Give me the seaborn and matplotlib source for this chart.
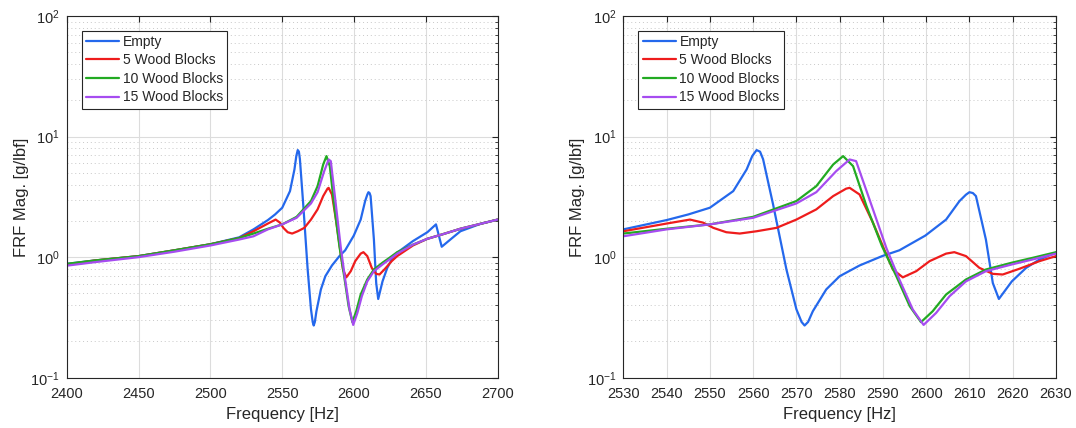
import pandas as pd
import matplotlib
matplotlib.use("Agg")
import matplotlib.pyplot as plt
import seaborn as sns
from matplotlib.ticker import LogLocator, NullFormatter, MultipleLocator

# data (frequency in Hz, FRF magnitude in g/lbf)
freq_empty = [2400, 2420, 2450, 2475, 2500, 2520, 2530, 2540, 2545, 2550,
              2555.4, 2558.5, 2559.8, 2560.8, 2561.6, 2562.3, 2564.6, 2567.7, 2570, 2571.2,
              2571.9, 2572.7, 2573.8, 2576.9, 2580, 2584.6, 2589.8, 2593.8, 2599.8, 2604.6,
              2607.7, 2609.2, 2610, 2610.8, 2611.5, 2613.8, 2615.4, 2616.8, 2619.8, 2623.1,
              2626.2, 2630, 2641, 2651, 2657, 2661, 2667, 2674, 2688, 2700]
mag_empty = [0.88, 0.94, 1.02, 1.14, 1.28, 1.46, 1.70, 2.03, 2.26, 2.57,
             3.53, 5.34, 6.9, 7.73, 7.5, 6.5, 2.75, 0.79, 0.37, 0.29,
             0.271, 0.29, 0.356, 0.54, 0.695, 0.853, 1.02, 1.14, 1.51, 2.05,
             2.92, 3.3, 3.46, 3.4, 3.21, 1.40, 0.61, 0.45, 0.63, 0.815,
             0.957, 1.09, 1.36, 1.61, 1.87, 1.22, 1.40, 1.64, 1.89, 2.05]

freq_5 = [2400, 2420, 2450, 2475, 2500, 2520, 2530, 2540, 2545.4, 2548.5,
          2550.8, 2553.8, 2556.9, 2560.8, 2565.4, 2570, 2574.6, 2578.5, 2581.5, 2582.3,
          2584.6, 2587.7, 2590, 2592.3, 2594.6, 2597.7, 2600.8, 2604.6, 2606.5, 2609.2,
          2612.3, 2615.4, 2617.7, 2621.5, 2626.2, 2630, 2641, 2651, 2661, 2674,
          2688, 2700]
mag_5 = [0.87, 0.94, 1.02, 1.14, 1.28, 1.44, 1.64, 1.90, 2.05, 1.93,
         1.75, 1.61, 1.57, 1.64, 1.75, 2.05, 2.49, 3.21, 3.7, 3.76,
         3.31, 1.93, 1.23, 0.79, 0.68, 0.765, 0.927, 1.07, 1.10, 1.02,
         0.815, 0.727, 0.718, 0.80, 0.927, 1.02, 1.25, 1.42, 1.54, 1.72,
         1.89, 2.05]

freq_10 = [2400, 2420, 2450, 2475, 2500, 2520, 2530, 2540, 2550, 2560,
           2570, 2574.6, 2578.5, 2580.8, 2583.1, 2586.2, 2589.8, 2593.1, 2596.2, 2598.8,
           2601.5, 2604.6, 2609.2, 2613.8, 2619.8, 2624.6, 2630, 2641, 2651, 2661,
           2674, 2688, 2700]
mag_10 = [0.88, 0.94, 1.02, 1.14, 1.28, 1.44, 1.57, 1.72, 1.87, 2.16,
          2.92, 3.88, 5.87, 6.89, 5.69, 2.65, 1.23, 0.695, 0.392, 0.289,
          0.356, 0.49, 0.653, 0.79, 0.90, 0.987, 1.10, 1.27, 1.42, 1.54,
          1.72, 1.89, 2.05]

freq_15 = [2400, 2420, 2450, 2475, 2500, 2520, 2530, 2540, 2550, 2560,
           2570, 2574.6, 2579.2, 2582.3, 2583.8, 2586.9, 2590.8, 2593.8, 2596.9, 2599.4,
           2602.3, 2605.4, 2609.2, 2613.8, 2619.8, 2624.6, 2630, 2641, 2651, 2661,
           2674, 2688, 2700]
mag_15 = [0.85, 0.91, 1.00, 1.11, 1.25, 1.40, 1.49, 1.70, 1.87, 2.12,
          2.79, 3.46, 5.17, 6.46, 6.26, 3.01, 1.19, 0.653, 0.368, 0.274,
          0.345, 0.474, 0.63, 0.765, 0.87, 0.957, 1.07, 1.27, 1.42, 1.54,
          1.72, 1.89, 2.05]

labels = ["Empty", "5 Wood Blocks", "10 Wood Blocks", "15 Wood Blocks"]
colors = ["#2468ec", "#ee1c1c", "#22aa22", "#a64cf0"]

df = pd.concat([
    pd.DataFrame({"freq": f, "mag": m, "case": lab})
    for f, m, lab in zip([freq_empty, freq_5, freq_10, freq_15],
                         [mag_empty, mag_5, mag_10, mag_15], labels)
], ignore_index=True)

sns.set_style("white")
plt.rcParams["font.family"] = ["Liberation Sans", "DejaVu Sans"]
plt.rcParams["mathtext.fontset"] = "custom"
plt.rcParams["mathtext.rm"] = "Liberation Sans"
plt.rcParams["mathtext.it"] = "Liberation Sans"

fig = plt.figure(figsize=(10.76, 4.28), dpi=100)
ax1 = fig.add_axes([0.062, 0.1175, 0.4006, 0.845])
ax2 = fig.add_axes([0.5793, 0.1175, 0.4021, 0.845])

txt = "#262626"
for ax, xlim, step in [(ax1, (2400, 2700), 50), (ax2, (2530, 2630), 10)]:
    sns.lineplot(data=df, x="freq", y="mag", hue="case", hue_order=labels,
                 palette=dict(zip(labels, colors)), estimator=None,
                 linewidth=1.6, ax=ax)
    ax.set_yscale("log")
    ax.set_ylim(0.1, 100)
    ax.set_xlim(*xlim)
    ax.xaxis.set_major_locator(MultipleLocator(step))
    ax.yaxis.set_major_locator(LogLocator(base=10, numticks=10))
    ax.yaxis.set_minor_locator(LogLocator(base=10, subs=range(2, 10), numticks=20))
    ax.yaxis.set_minor_formatter(NullFormatter())
    ax.grid(True, which="major", color="#dcdcdc", linewidth=0.8, linestyle="-")
    ax.grid(True, which="minor", axis="y", color="#c8c8c8", linewidth=0.7, linestyle=(0, (1, 3)))
    ax.set_axisbelow(True)
    ax.tick_params(which="both", direction="in", top=True, right=True,
                   colors=txt, labelsize=10.5, length=4)
    ax.tick_params(axis="x", pad=7)
    ax.tick_params(axis="y", pad=5)
    ax.tick_params(which="minor", length=2)
    for sp in ax.spines.values():
        sp.set_color(txt)
        sp.set_linewidth(0.8)
    ax.set_xlabel("Frequency [Hz]", fontsize=12, color=txt, labelpad=4)
    ax.set_ylabel("FRF Mag. [g/lbf]", fontsize=12, color=txt, labelpad=1)
    handles, labs = ax.get_legend_handles_labels()
    leg = ax.legend(handles, labs, loc="upper left", bbox_to_anchor=(0.035, 0.96),
                    fontsize=10, frameon=True, fancybox=False, framealpha=1,
                    edgecolor=txt, handlelength=2.4, handletextpad=0.25,
                    borderpad=0.3, labelspacing=0.33, borderaxespad=0)
    leg.get_frame().set_linewidth(0.8)

fig.savefig("out.png", dpi=100)
